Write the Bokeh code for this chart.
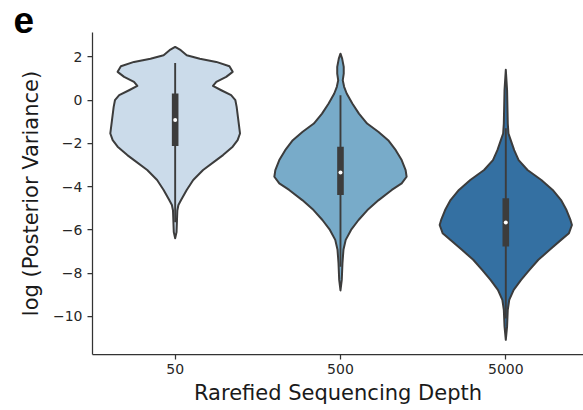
from bokeh.plotting import figure
from bokeh.models import FixedTicker, Label, Range1d
from bokeh.embed import file_html
from bokeh.resources import INLINE

# ---------------- data ----------------
categories = ["50", "500", "5000"]
colors = ["#cbdbea", "#78abc9", "#3470a2"]

# violin outlines: log(posterior variance) levels and relative density (half-width)
v50_y = [2.46, 2.31, 2.08, 1.92, 1.77, 1.57, 1.31, 1.08, 0.85, 0.66, 0.46, 0.23, 0.0,
         -0.31, -0.92, -1.54, -1.85, -2.15, -2.54, -2.77, -3.23, -3.69, -4.15, -4.62,
         -4.85, -5.1, -5.6, -6.1, -6.38]
v50_d = [0, 5.7, 11.7, 25, 41.7, 55, 58.3, 51.7, 41.7, 38.3, 46.7, 56.7, 61,
         62.3, 64, 65.7, 63.3, 58.3, 48.5, 41.7, 28.3, 18.3, 11.7, 6,
         3.3, 2.2, 1.8, 1.4, 0]

v500_y = [2.15, 1.92, 1.54, 1.23, 0.92, 0.62, 0.31, -0.15, -0.62, -1.08, -1.46, -1.85,
          -2.31, -2.77, -3.23, -3.54, -3.85, -4.15, -4.62, -5.08, -5.54, -6.0, -6.46,
          -6.92, -7.54, -8.31, -8.8]
v500_d = [0, 1.7, 3.3, 3.3, 2.3, 3.7, 6.3, 12, 18.7, 27, 38.3, 48.3,
          56, 62, 66, 67, 62, 52, 38.7, 27.3, 18.3, 10.7, 5.3,
          3, 2, 1.3, 0]

v5000_y = [1.41, 0.46, -1.08, -1.54, -1.85, -2.31, -2.77, -3.23, -3.69, -4.15, -4.62,
           -5.08, -5.54, -5.77, -6.15, -6.46, -6.92, -7.38, -7.85, -8.31, -8.77, -9.23,
           -9.69, -10.46, -11.08]
v5000_d = [0, 1.3, 2, 2.7, 5, 8.5, 13, 22, 36, 47.5, 56,
           61.5, 65.5, 67, 64, 56, 44.5, 33, 24, 15.5, 8, 3.5,
           2, 1.3, 0]

# inner box statistics per category
whisker_low = [-5.65, -7.7, -10.1]
q1 = [-2.12, -4.38, -6.77]
median = [-0.92, -3.34, -5.66]
q3 = [0.31, -2.15, -4.54]
whisker_high = [1.72, 0.23, -1.3]

y_ticks = [2, 0, -2, -4, -6, -8, -10]

# ---------------- figure ----------------
x_lo, x_hi = -0.5, 2.47
y_lo, y_hi = -11.76, 3.13
p = figure(width=583, height=410, output_backend="svg", toolbar_location=None,
           x_range=Range1d(x_lo, x_hi), y_range=Range1d(y_lo, y_hi),
           min_border_left=92, min_border_right=0, min_border_top=32,
           min_border_bottom=56)
p.outline_line_color = None
p.xgrid.visible = False
p.ygrid.visible = False
p.background_fill_color = "white"

profiles = [(v50_y, v50_d), (v500_y, v500_d), (v5000_y, v5000_d)]
dmax = max(max(d) for _, d in profiles)
half_width = 0.4

xs, ys = [], []
for i, (yy, dd) in enumerate(profiles):
    right = [i + half_width * d / dmax for d in dd]
    left = [i - half_width * d / dmax for d in dd]
    xs.append(right + left[::-1])
    ys.append(yy + yy[::-1])

p.patches(xs, ys, fill_color=colors, line_color="#3c3c3c", line_width=2,
          line_join="round")

pos = list(range(len(categories)))
p.segment(x0=pos, y0=whisker_low, x1=pos, y1=whisker_high,
          line_color="#3c3c3c", line_width=1.9)
p.vbar(x=pos, bottom=q1, top=q3, width=0.04, fill_color="#3c3c3c", line_color=None)
p.scatter(x=pos, y=median, size=4, fill_color="white", line_color=None)

# axes
for ax in (p.xaxis[0], p.yaxis[0]):
    ax.axis_line_color = "#333333"
    ax.axis_line_width = 1.25
    ax.major_tick_line_color = "#333333"
    ax.major_tick_line_width = 1.25
    ax.major_tick_out = 5
    ax.major_tick_in = 0
    ax.minor_tick_line_color = None
    ax.major_label_text_font = "DejaVu Sans"
    ax.major_label_text_font_size = "14px"
    ax.major_label_text_color = "#262626"
    ax.axis_label_text_font = "DejaVu Sans"
    ax.axis_label_text_font_size = "21px"
    ax.axis_label_text_font_style = "normal"
    ax.axis_label_text_color = "#1a1a1a"

p.xaxis.ticker = FixedTicker(ticks=pos)
p.xaxis.major_label_overrides = {i: c for i, c in enumerate(categories)}
p.xaxis.major_label_standoff = 4
p.xaxis.axis_label = "Rarefied Sequencing Depth"
p.xaxis.axis_label_standoff = 4

p.yaxis.ticker = FixedTicker(ticks=y_ticks)
p.yaxis.major_label_overrides = {t: str(t).replace("-", "\u2212") for t in y_ticks}
p.yaxis.major_label_standoff = 5
p.yaxis.axis_label = "log (Posterior Variance)"
p.yaxis.axis_label_standoff = 7

# panel letter, in the panel above the frame (screen units relative to that panel)
p.add_layout(Label(x=-79, y=13, x_units="screen", y_units="screen",
                   text="e", text_font="Liberation Sans", text_font_style="bold",
                   text_font_size="37px", text_baseline="alphabetic",
                   text_color="black"), "above")

open("out.html", "w").write(file_html(p, INLINE))
